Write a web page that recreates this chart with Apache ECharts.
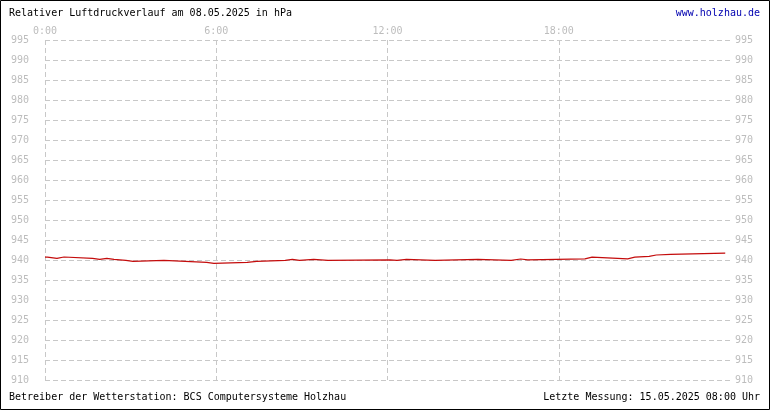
<!DOCTYPE html>
<html>
<head>
<meta charset="utf-8">
<script src="https://cdn.jsdelivr.net/npm/echarts@6/dist/echarts.min.js"></script>
<style>
  html, body { margin: 0; padding: 0; background: #fff; }
  #chart { width: 770px; height: 410px; }
</style>
</head>
<body>
<div id="chart"></div>
<script>
// minutes since midnight where the reading changes, and the reading (hPa)
const times = [0, 5, 25, 40, 100, 115, 130, 145, 170, 185, 250, 295, 340, 355, 425, 445,
  505, 520, 535, 565, 595, 725, 740, 760, 820, 910, 980, 1000, 1015, 1135, 1150, 1225,
  1240, 1270, 1285, 1315, 1430]
const pressure = [940.7, 940.4, 940.75, 940.4, 940.15, 940.4, 940.15, 939.9, 939.65, 939.9,
  939.65, 939.4, 939.15, 939.4, 939.65, 939.9, 940.15, 939.9, 940.15, 939.9, 940.05, 939.9,
  940.15, 939.9, 940.15, 939.9, 940.25, 940.05, 940.3, 940.7, 940.3, 940.7, 940.9, 941.25,
  941.4, 941.7, 941.7]
const hourTicks = ["0:00", "6:00", "12:00", "18:00"]

const font = "DejaVu Sans Mono"
const labelColor = "#bdbdbd"
const gridColor = "#c8c8c8"

const chart = echarts.init(document.getElementById("chart"))

chart.setOption({
  animation: false,
  backgroundColor: "#fff",
  grid: { left: 45, right: 40, top: 40, bottom: 30 },
  xAxis: {
    type: "value",
    position: "top",
    min: 0,
    max: 1440,
    interval: 360,
    axisLine: { show: false },
    axisTick: { show: false },
    axisLabel: {
      margin: 4,
      color: labelColor,
      fontFamily: font,
      fontSize: 10,
      formatter: function (v) {
        return hourTicks[v / 360] || ""
      },
    },
    splitLine: {
      show: true,
      showMaxLine: false,
      lineStyle: { color: gridColor, type: [5, 3], width: 1 },
    },
  },
  yAxis: [
    {
      type: "value",
      min: 910,
      max: 995,
      interval: 5,
      axisLine: { show: false },
      axisTick: { show: false },
      axisLabel: { margin: 16, color: labelColor, fontFamily: font, fontSize: 10 },
      splitLine: { lineStyle: { color: gridColor, type: [5, 3], width: 1 } },
    },
    {
      type: "value",
      position: "right",
      min: 910,
      max: 995,
      interval: 5,
      axisLine: { show: false },
      axisTick: { show: false },
      axisLabel: { margin: 5, color: labelColor, fontFamily: font, fontSize: 10 },
      splitLine: { show: false },
    },
  ],
  series: [
    {
      type: "line",
      step: "end",
      showSymbol: false,
      data: times.map((t, i) => [t, pressure[i]]),
      lineStyle: { color: "#c40c0c", width: 1.2 },
    },
  ],
  graphic: [
    {
      type: "rect",
      shape: { x: 0.5, y: 0.5, width: 769, height: 409 },
      style: { fill: null, stroke: "#000", lineWidth: 1 },
    },
    {
      type: "text",
      left: 9,
      top: 8,
      style: { text: "Relativer Luftdruckverlauf am 08.05.2025 in hPa", fill: "#000", font: "10px " + font },
    },
    {
      type: "text",
      right: 10,
      top: 8,
      style: { text: "www.holzhau.de", fill: "#0000b0", font: "10px " + font },
    },
    {
      type: "text",
      left: 9,
      top: 392,
      style: { text: "Betreiber der Wetterstation: BCS Computersysteme Holzhau", fill: "#000", font: "10px " + font },
    },
    {
      type: "text",
      right: 10,
      top: 392,
      style: { text: "Letzte Messung: 15.05.2025 08:00 Uhr", fill: "#000", font: "10px " + font },
    },
  ],
})
</script>
</body>
</html>
